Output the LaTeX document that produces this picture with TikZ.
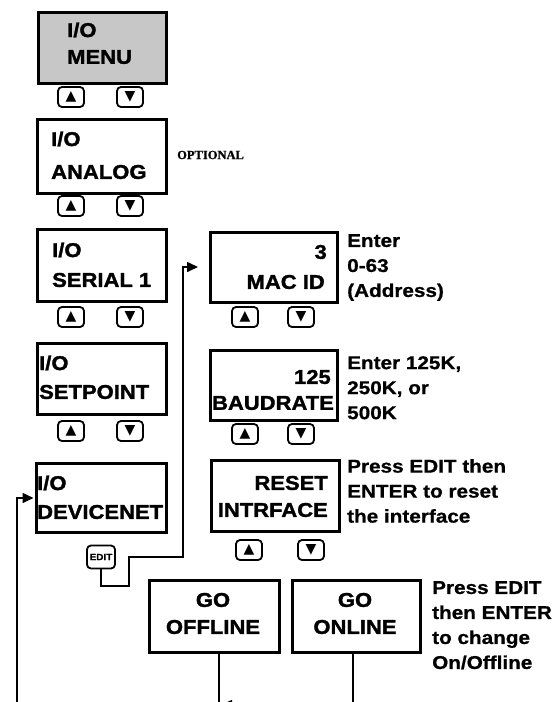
\documentclass[tikz,border=0pt]{standalone}
\usepackage{fontspec}
\usetikzlibrary{arrows.meta}
\setmainfont{Liberation Sans}
\newfontfamily\lcdfont{Liberation Sans}[FakeStretch=1.1,FakeBold=1.5]
\newfontfamily\lblfont{Liberation Sans}[FakeStretch=1.12,FakeBold=0.8]
\newfontfamily\symfont{DejaVu Sans}
\newfontfamily\optfont{Liberation Serif}[FakeBold=1]
\tikzset{
  disp/.style={draw, line width=2.5pt, inner sep=0pt, anchor=north west},
  lcd/.style={inner sep=0pt, font=\lcdfont\bfseries\fontsize{20}{20}\selectfont},
  btn/.style={draw, line width=1.8pt, rounded corners=4pt, minimum width=26pt, minimum height=20pt, inner sep=0pt, font=\symfont\fontsize{14}{14}\selectfont},
  lbl/.style={inner sep=0pt, anchor=north west, align=left, font=\lblfont\bfseries\fontsize{18.5}{25}\selectfont},
  conn/.style={line width=1.6pt},
  tip/.style={-{Triangle[length=11pt,width=10pt]}},
}
\begin{document}
\begin{tikzpicture}[x=1pt,y=-1pt]
\useasboundingbox (0,0) rectangle (556,702);
\clip (0,0) rectangle (556,702);
\fill[white] (0,0) rectangle (556,702);

% left column displays
\node[disp, fill=black!22, minimum width=128pt, minimum height=71pt] (menu) at (37,11) {};
\node[lcd, anchor=west] (menu1) at (67,30) {I/O};
\node[lcd, anchor=west] (menu2) at (67,57) {MENU};
\node[btn] (mu) at (71,97) {▲};
\node[btn] (md) at (130,97) {▼};

\node[disp, minimum width=129pt, minimum height=74pt] (analog) at (36,118) {};
\node[lcd, anchor=west] (analog1) at (51,139) {I/O};
\node[lcd, anchor=west] (analog2) at (51,172) {ANALOG};
\node[inner sep=0pt, anchor=west, font=\optfont\bfseries\fontsize{12.5}{12.5}\selectfont] (opt) at (177,155) {OPTIONAL};
\node[btn] (au) at (71,206) {▲};
\node[btn] (ad) at (130,206) {▼};

\node[disp, minimum width=129pt, minimum height=72pt] (serial) at (36,228) {};
\node[lcd, anchor=west] (serial1) at (52,250) {I/O};
\node[lcd, anchor=west] (serial2) at (52,280) {SERIAL 1};
\node[btn] (su) at (71,317) {▲};
\node[btn] (sd) at (130,317) {▼};

\node[disp, minimum width=129pt, minimum height=71pt] (setp) at (36,342) {};
\node[lcd, anchor=west] (setp1) at (39,363) {I/O};
\node[lcd, anchor=west] (setp2) at (39,392) {SETPOINT};
\node[btn] (pu) at (71,431) {▲};
\node[btn] (pd) at (130,431) {▼};

\node[disp, minimum width=130pt, minimum height=69pt] (devnet) at (35,462) {};
\node[lcd, anchor=west] (devnet1) at (37,483) {I/O};
\node[lcd, anchor=west] (devnet2) at (37,512) {DEVICENET};
\node[draw, line width=1.8pt, rounded corners=4pt, minimum width=28pt, minimum height=23pt, inner sep=0pt, font=\lcdfont\bfseries\fontsize{9}{9}\selectfont] (edit) at (101,557) {EDIT};

% right column displays
\node[disp, minimum width=127pt, minimum height=70pt] (mac) at (209,231) {};
\node[lcd, anchor=east] (mac1) at (327,252) {3};
\node[lcd, anchor=east] (mac2) at (325,282) {MAC ID};
\node[btn] (cu) at (245,317) {▲};
\node[btn] (cd) at (301,317) {▼};
\node[lbl] (maclbl) at (347,234) {Enter\\0-63\\(Address)};

\node[disp, minimum width=127pt, minimum height=70pt] (baud) at (209,349) {};
\node[lcd, anchor=east] (baud1) at (331,377) {125};
\node[lcd] (baud2) at (273,403) {BAUDRATE};
\node[btn] (bu) at (245,434) {▲};
\node[btn] (bd) at (301,434) {▼};
\node[lbl] (baudlbl) at (347,356) {Enter 125K,\\250K, or\\500K};

\node[disp, minimum width=128pt, minimum height=71pt] (reset) at (210,459) {};
\node[lcd, anchor=east] (reset1) at (328,483) {RESET};
\node[lcd, anchor=east] (reset2) at (328,510) {INTRFACE};
\node[btn] (ru) at (249,550) {▲};
\node[btn] (rd) at (311,550) {▼};
\node[lbl] (resetlbl) at (347,459) {Press EDIT then\\ENTER to reset\\the interface};

% GO boxes
\node[disp, minimum width=130pt, minimum height=72pt] (offline) at (148,579) {};
\node[lcd] (off1) at (213,600) {GO};
\node[lcd] (off2) at (213,627) {OFFLINE};
\node[disp, minimum width=128pt, minimum height=72pt] (online) at (291,579) {};
\node[lcd] (on1) at (355,600) {GO};
\node[lcd] (on2) at (355,627) {ONLINE};
\node[lbl] (golbl) at (432,581) {Press EDIT\\then ENTER\\to change\\On/Offline};

% connectors
\coordinate (e1) at (101,586);
\coordinate (e2) at (129,586);
\coordinate (e3) at (129,557);
\coordinate (e4) at (183,557);
\coordinate (e5) at (183,267);
\coordinate (e6) at (198,267);
\draw[conn, tip] (edit.south) -- (e1) -- (e2) -- (e3) -- (e4) -- (e5) -- (e6);

\coordinate (l0) at (17,720);
\coordinate (l1) at (17,498);
\coordinate (l2) at (33.5,498);
\draw[conn, tip] (l0) -- (l1) -- (l2);

\coordinate (o1) at (219,720);
\coordinate (o2) at (353,720);
\draw[conn] (offline.south -| o1) -- (o1);
\draw[conn] (online.south -| o2) -- (o2);
\coordinate (b1) at (353,705);
\coordinate (b2) at (221,705);
\draw[conn, tip] (b1) -- (b2);
\end{tikzpicture}
\end{document}
